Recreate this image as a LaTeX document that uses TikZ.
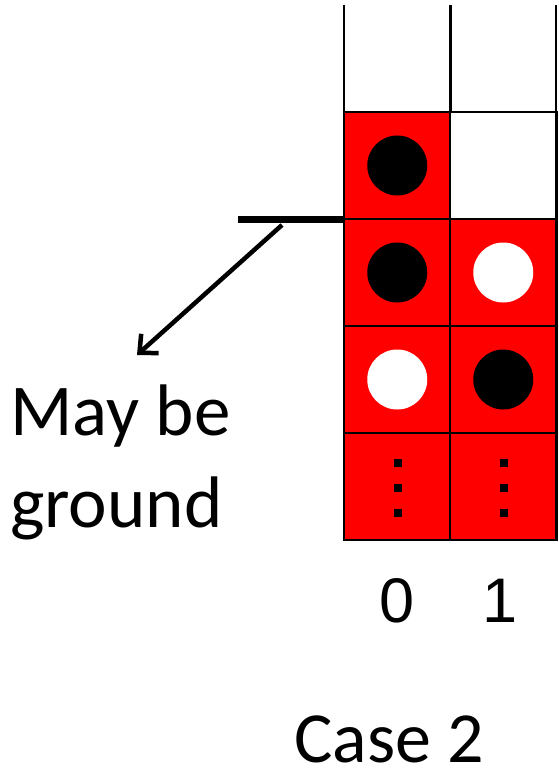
\documentclass[tikz,border=0pt]{standalone}
\usepackage{fontspec}
\setmainfont{Carlito}
\newfontfamily\digitfont{Liberation Sans}
\usetikzlibrary{arrows.meta}
\tikzset{
  cell/.style={draw=black, line width=2.8pt, minimum width=106.5pt, minimum height=107pt, inner sep=0pt, outer sep=0pt},
  redcell/.style={cell, fill=red},
  whitecell/.style={cell, fill=white},
  blackdot/.style={circle, fill=black, minimum size=60pt, inner sep=0pt},
  whitedot/.style={circle, fill=white, minimum size=60pt, inner sep=0pt},
  smalldot/.style={rectangle, fill=black, minimum size=8pt, inner sep=0pt},
  bigtext/.style={font=\fontsize{73}{86}\selectfont, inner sep=0pt, anchor=base west},
  digit/.style={font=\digitfont\fontsize{63}{70}\selectfont, inner sep=0pt, anchor=base},
  groundbar/.style={line width=7pt},
  pointer/.style={line width=4.5pt, -{Straight Barb[length=14pt, width=26pt, line width=4.5pt]}}
}
\begin{document}
\begin{tikzpicture}[x=1pt, y=-1pt]
\useasboundingbox (0,0) rectangle (558,770);
% open top column lines
\coordinate (t0) at (344,5);
\coordinate (t1) at (450.5,5);
\coordinate (t2) at (556,5);
\coordinate (b0) at (344,112);
\coordinate (b1) at (450.5,112);
\coordinate (b2) at (556,112);
\draw[line width=2.8pt] (t0) -- (b0);
\draw[line width=2.8pt] (t1) -- (b1);
\draw[line width=2.8pt] (t2) -- (b2);
% cells
\node[redcell]   (c10) at (397.25,165.5) {};
\node[whitecell] (c11) at (503.25,165.5) {};
\node[redcell]   (c20) at (397.25,272.5) {};
\node[redcell]   (c21) at (503.25,272.5) {};
\node[redcell]   (c30) at (397.25,379.5) {};
\node[redcell]   (c31) at (503.25,379.5) {};
\node[redcell]   (c40) at (397.25,486.5) {};
\node[redcell]   (c41) at (503.25,486.5) {};
% dots
\node[blackdot] (d10) at (c10.center) {};
\node[blackdot] (d20) at (c20.center) {};
\node[whitedot] (d21) at (c21.center) {};
\node[whitedot] (d30) at (c30.center) {};
\node[blackdot] (d31) at (c31.center) {};
\node[smalldot] (e0a) at (397.5,463) {};
\node[smalldot] (e0b) at (397.5,488) {};
\node[smalldot] (e0c) at (397.5,513) {};
\node[smalldot] (e1a) at (503.5,463) {};
\node[smalldot] (e1b) at (503.5,488) {};
\node[smalldot] (e1c) at (503.5,513) {};
% ground bar and arrow
\coordinate (g0) at (238,219);
\coordinate (g1) at (c20.north west);
\draw[groundbar] (g0) -- (g1);
\coordinate (as) at (282,225);
\coordinate (ae) at (137,355);
\draw[pointer] (as) -- (ae);
% texts
\node[bigtext] (t1l) at (10,435) {May be};
\node[bigtext] (t2l) at (10,527) {ground};
\node[digit] (n0) at (397.5,622) {0};
\node[digit] (n1) at (500,622) {1};
\node[bigtext, font=\fontsize{72}{86}\selectfont] (case) at (294,762) {Case 2};
\end{tikzpicture}
\end{document}
